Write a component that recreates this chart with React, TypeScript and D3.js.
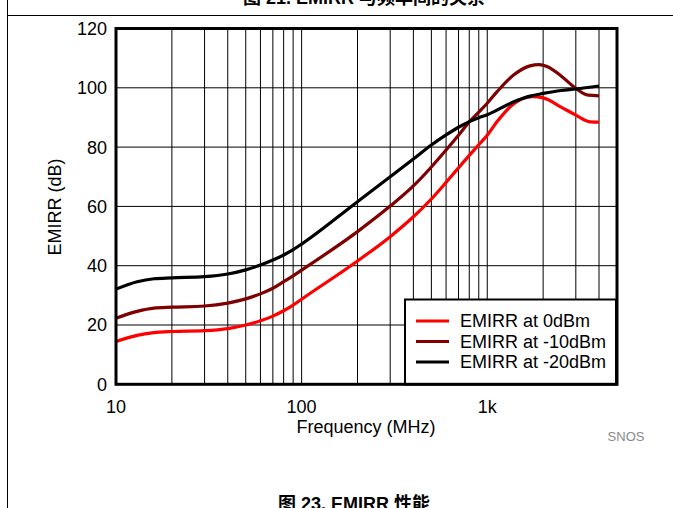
import React from "react";
import * as d3 from "d3";

const xTickValues = [10, 100, 1000];
const xTickLabels = ["10", "100", "1k"];
const yTickValues = [0, 20, 40, 60, 80, 100, 120];
const xGrid = [20, 30, 40, 50, 60, 70, 80, 90, 100, 200, 300, 400, 500, 600, 700, 800, 900, 1000, 2000, 3000, 4000];
const yGrid = [20, 40, 60, 80, 100];

const seriesNames = ["EMIRR at 0dBm", "EMIRR at -10dBm", "EMIRR at -20dBm"];
const seriesColors = ["#ff0000", "#7f0000", "#000000"];

const red0dBm: [number, number][] = [
  [10, 14.4], [13, 16.5], [16, 17.4], [20, 17.8], [30, 18.1], [40, 18.8], [50, 20], [60, 21.4],
  [70, 23], [80, 24.8], [90, 26.7], [100, 28.7], [200, 41.6], [300, 49.8], [400, 56.5],
  [500, 62.5], [600, 68.1], [700, 73], [800, 77.2], [900, 80.8], [1000, 84], [1130, 88.6],
  [1380, 94.5], [1750, 97], [2000, 96.6], [2500, 93.5], [3000, 90.8], [3600, 88.5], [4000, 88.4],
];
const darkRedM10dBm: [number, number][] = [
  [10, 22.3], [13, 24.6], [16, 25.7], [20, 26], [30, 26.4], [40, 27.4], [50, 28.8], [60, 30.5],
  [70, 32.4], [80, 34.6], [90, 36.6], [100, 38.5], [200, 51.5], [300, 60.1], [400, 66.9],
  [500, 73.3], [600, 79], [700, 84], [800, 88.5], [900, 91.8], [1000, 94.8], [1130, 98.7],
  [1380, 104.2], [1700, 107.4], [1900, 107.8], [2100, 107.2], [2500, 104], [3000, 99.8],
  [3500, 97.5], [4000, 97.3],
];
const blackM20dBm: [number, number][] = [
  [10, 32.1], [13, 34.6], [16, 35.6], [20, 35.9], [30, 36.3], [40, 37.2], [50, 38.6], [60, 40.2],
  [70, 41.9], [80, 43.6], [90, 45.4], [100, 47.3], [200, 61.6], [300, 70], [400, 76],
  [500, 80.7], [600, 84.1], [700, 86.7], [800, 88.6], [900, 89.9], [1000, 90.9], [1380, 95.2],
  [1700, 97.2], [2000, 98.1], [2500, 99.1], [3000, 99.6], [4000, 100.6],
];

const seriesData = [red0dBm, darkRedM10dBm, blackM20dBm];

const FONT = "'Liberation Sans', Arial, sans-serif";
const CJK = "'Liberation Sans', 'Noto Sans CJK SC', sans-serif";

export default function App() {
  const x = d3.scaleLog().domain([10, 5000]).range([116, 617]);
  const y = d3.scaleLinear().domain([0, 120]).range([384.3, 28.5]);
  const line = d3
    .line<[number, number]>()
    .x((d) => x(d[0]))
    .y((d) => y(d[1]))
    .curve(d3.curveMonotoneX);

  const [x0, x1] = x.range();
  const [yb, yt] = y.range();

  const legX = 405, legY = 299.5, legW = 211, legH = 85;
  const legRows = [321, 341.5, 362];

  return (
    <svg
      width={673}
      height={508}
      style={{ position: "absolute", left: 0, top: 0, background: "#fff" }}
      fontFamily={FONT}
    >
      <rect x={0} y={0} width={673} height={508} fill="#fff" />
      {/* page frame */}
      <line x1={7.5} y1={0} x2={7.5} y2={508} stroke="#000" strokeWidth={1} />
      <line x1={7.5} y1={15.5} x2={673} y2={15.5} stroke="#000" strokeWidth={1} />
      <text x={364} y={4} textAnchor="middle" fontFamily={CJK} fontWeight="bold" fontSize={18}>
        图 21. EMIRR 与频率间的关系
      </text>
      <text x={354} y={510} textAnchor="middle" fontFamily={CJK} fontWeight="bold" fontSize={18}>
        图 23. EMIRR 性能
      </text>

      {/* grid */}
      {xGrid.map((v) => (
        <line key={"gx" + v} x1={x(v)} x2={x(v)} y1={yt} y2={yb} stroke="#000" strokeWidth={1} />
      ))}
      {yGrid.map((v) => (
        <line key={"gy" + v} x1={x0} x2={x1} y1={y(v)} y2={y(v)} stroke="#000" strokeWidth={1} />
      ))}

      {/* curves */}
      {seriesData.map((s, i) => (
        <path key={"s" + i} d={line(s) || ""} fill="none" stroke={seriesColors[i]} strokeWidth={3.2} strokeLinejoin="round" />
      ))}

      {/* legend */}
      <rect x={legX} y={legY} width={legW} height={legH} fill="#fff" stroke="#000" strokeWidth={2} />
      {seriesNames.map((n, i) => (
        <g key={"l" + i}>
          <line x1={416} x2={449} y1={legRows[i]} y2={legRows[i]} stroke={seriesColors[i]} strokeWidth={3.2} />
          <text x={460} y={legRows[i] + 6.4} fontSize={18}>
            {n}
          </text>
        </g>
      ))}

      {/* frame */}
      <rect x={x0} y={yt} width={x1 - x0} height={yb - yt} fill="none" stroke="#000" strokeWidth={3} />

      {/* y ticks */}
      {yTickValues.map((v) => (
        <text key={"yt" + v} x={107} y={y(v) + 6.4} textAnchor="end" fontSize={18}>
          {v}
        </text>
      ))}
      {/* x ticks */}
      {xTickValues.map((v, i) => (
        <text key={"xt" + v} x={x(v)} y={413} textAnchor="middle" fontSize={18}>
          {xTickLabels[i]}
        </text>
      ))}
      <text x={366} y={433} textAnchor="middle" fontSize={18}>
        Frequency (MHz)
      </text>
      <text transform="translate(61,207) rotate(-90)" textAnchor="middle" fontSize={18}>
        EMIRR (dB)
      </text>
      <text x={626} y={441} textAnchor="middle" fontSize={13} fill="#8a8a8a">
        SNOS
      </text>
    </svg>
  );
}
